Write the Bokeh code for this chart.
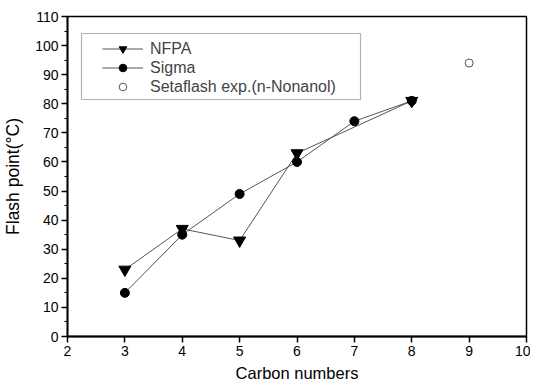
from bokeh.plotting import figure
from bokeh.models import Range1d, Legend, LegendItem, FixedTicker, BoxAnnotation
from bokeh.embed import file_html
from bokeh.resources import INLINE

nfpa_x = [3, 4, 5, 6, 8]
nfpa_y = [23, 37, 33, 63, 81]
sigma_x = [3, 4, 5, 6, 7, 8]
sigma_y = [15, 35, 49, 60, 74, 81]
seta_x = [9]
seta_y = [94]
x_ticks = [2, 3, 4, 5, 6, 7, 8, 9, 10]
y_ticks = list(range(0, 111, 10))

FONT = "Liberation Sans"

p = figure(width=530, height=385, output_backend="svg", toolbar_location=None,
           x_range=Range1d(2, 10), y_range=Range1d(0, 110),
           min_border_left=67, min_border_right=4, min_border_top=16, min_border_bottom=49)
p.grid.visible = False
p.outline_line_color = "black"
p.outline_line_width = 1.5

for ax in (p.xaxis[0], p.yaxis[0]):
    ax.axis_line_width = 1.8
    ax.major_tick_line_width = 1.5
    ax.minor_tick_line_width = 1.2
    ax.major_tick_in = 0
    ax.major_tick_out = 6
    ax.minor_tick_in = 0
    ax.minor_tick_out = 3
    ax.major_label_text_font = FONT
    ax.major_label_text_font_size = "14px"
    ax.major_label_text_color = "black"
    ax.major_label_standoff = 3
    ax.axis_label_text_font = FONT
    ax.axis_label_text_font_style = "normal"
    ax.axis_label_text_color = "black"

p.xaxis.axis_label_text_font_size = "16.5px"
p.yaxis.axis_label_text_font_size = "17.5px"
p.xaxis.ticker = FixedTicker(ticks=x_ticks)
p.yaxis.ticker = FixedTicker(ticks=y_ticks, minor_ticks=[v + 5 for v in y_ticks[:-1]])
p.xaxis.axis_label = "Carbon numbers"
p.yaxis.axis_label = "Flash point(°C)"
p.xaxis.axis_label_standoff = 5
p.yaxis.axis_label_standoff = 9

l1 = p.line(nfpa_x, nfpa_y, line_color="#555555", line_width=1)
m1 = p.scatter(nfpa_x, nfpa_y, marker="inverted_triangle", size=12, color="black")
l2 = p.line(sigma_x, sigma_y, line_color="#555555", line_width=1)
m2 = p.scatter(sigma_x, sigma_y, marker="circle", size=9, color="black")
m3 = p.scatter(seta_x, seta_y, marker="circle", size=8, fill_color="white",
               line_color="#555555", line_width=1)

# legend frame drawn behind the legend entries
box = BoxAnnotation(left=2.244, right=7.107, top=104.16, bottom=81.47,
                    fill_color="white", fill_alpha=1, line_color="black", line_width=1.2)
p.add_layout(box)

legend = Legend(items=[
    LegendItem(label="NFPA", renderers=[l1, m1]),
    LegendItem(label="Sigma", renderers=[l2, m2]),
    LegendItem(label="Setaflash exp.(n-Nonanol)", renderers=[m3]),
], location=(35, 240))
legend.padding = 0
legend.spacing = 0
legend.glyph_width = 41
legend.glyph_height = 19
legend.label_height = 19
legend.label_standoff = 7
legend.label_text_font = FONT
legend.label_text_font_size = "16px"
legend.border_line_alpha = 0
legend.background_fill_alpha = 0
p.add_layout(legend)

open("out.html", "w").write(file_html(p, INLINE))
